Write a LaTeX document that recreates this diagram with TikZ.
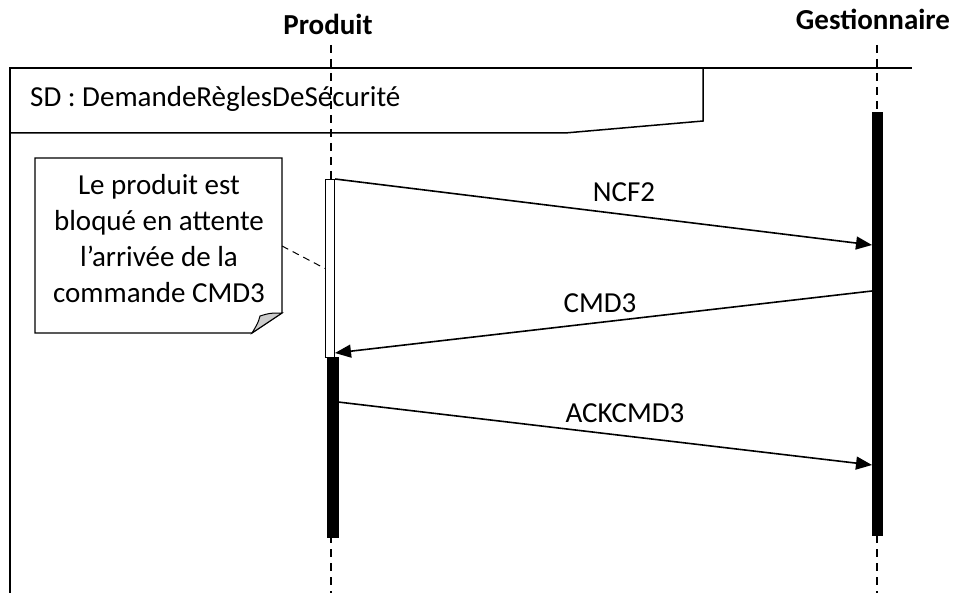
\documentclass[tikz,border=0pt]{standalone}
\usepackage{fontspec}
\setmainfont{Carlito}
\usetikzlibrary{arrows.meta}
\usetikzlibrary{math}

\begin{document}
\begin{tikzpicture}[x=1pt,y=-1pt,
  txt/.style={inner sep=0pt, anchor=base, font=\fontsize{29}{35}\selectfont},
  life/.style={line width=1.5pt, dash pattern=on 8pt off 6pt},
  msg/.style={-{Triangle[length=16pt,width=13pt]}, line width=1.6pt},
  bar/.style={draw, fill=black, line width=0.5pt, minimum width=10pt, inner sep=0pt, anchor=north},
]
\tikzmath{
\xp=331;
\xg=877;
}
\useasboundingbox (0,0) rectangle (953,593);

% lifelines
\node[txt, font=\fontsize{29}{35}\selectfont\bfseries] (produit) at (328,35) {Produit};
\node[txt, font=\fontsize{29}{35}\selectfont\bfseries] (gest) at (873,30) {Gestionnaire};
\coordinate (pTop) at (\xp,45);
\coordinate (pEnd) at (\xp,593);
\coordinate (gTop) at (\xg,45);
\coordinate (gEnd) at (\xg,593);
\draw[life] (pTop) -- (pEnd);
\draw[life] (gTop) -- (gEnd);

% frame
\draw[line width=1.5pt] (10,593) -- (10,68) -- (912,68);
\draw[line width=1.5pt] (10,133) -- (565,133) -- (703,121) -- (703,68);
\node[txt, anchor=base west] (sd) at (30,107) {SD : DemandeRèglesDeSécurité};

% note
\draw[line width=1.2pt, fill=white] (35,158) -- (282,158) -- (282,313) -- (252,333) -- (35,333) -- cycle;
\draw[line width=1pt, fill=gray!40] (282,313) .. controls (270,313) .. (260,316) .. controls (258,323) .. (252,333) -- cycle;
\foreach \t [count=\i] in {Le produit est, bloqué en attente, l’arrivée de la, commande CMD3}{
 \node[txt] (note\i) at (159,159+36*\i) {\t};
}
\coordinate (noteLink) at (282,246);

% activations
\node[bar, fill=white, line width=1pt, minimum width=9pt, minimum height=178pt] (pWait) at (330,179) {};
\node[bar, minimum width=11pt, minimum height=180pt] (pAct) at (332.5,357) {};
\node[bar, minimum height=423pt] (gAct) at (\xg,112) {};
\draw[line width=1pt, dash pattern=on 7pt off 5pt] (noteLink) -- (pWait.west);

% messages
\coordinate (m1a) at (pWait.north east);
\coordinate (m1b) at (872,245);
\coordinate (m2a) at (872,291);
\coordinate (m2b) at (335,353);
\coordinate (m3a) at (338,402);
\coordinate (m3b) at (872,465);
\draw[msg] (m1a) -- (m1b);
\draw[msg] (m2a) -- (m2b);
\draw[msg] (m3a) -- (m3b);
\node[txt] (ncf) at (624,202) {NCF2};
\node[txt] (cmd) at (600,313) {CMD3};
\node[txt] (ack) at (625,422) {ACKCMD3};
\end{tikzpicture}
\end{document}
